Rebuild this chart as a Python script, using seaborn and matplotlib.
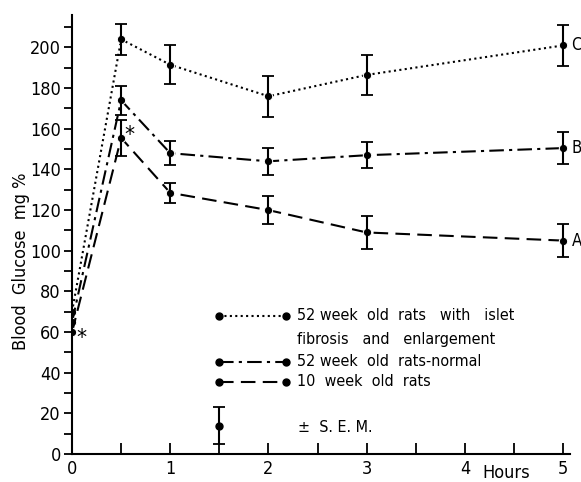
import matplotlib
matplotlib.use("Agg")
import matplotlib.pyplot as plt
import seaborn as sns
import pandas as pd

# Blood glucose (mg %) after glucose load, three groups of rats
hours = [0, 0.5, 1, 2, 3, 5]
glucose_c = [70, 204, 191.5, 176, 186.5, 201]    # 52 wk, islet fibrosis
glucose_b = [65, 174, 148, 144, 147, 150.5]      # 52 wk, normal
glucose_a = [60, 155.5, 128.5, 120, 109, 105]    # 10 wk
sem_c = [0, 7.5, 9.5, 10, 10, 10]
sem_b = [0, 7, 6, 6.5, 6.5, 8]
sem_a = [0, 9, 5, 7, 8, 8]

groups = ["C", "B", "A"]
labels = ["52 week  old  rats   with   islet",
          "52 week  old  rats-normal",
          "10  week  old  rats"]
label_extra = "fibrosis   and   enlargement"
dash_styles = {"C": (1, 1.6), "B": (7, 2.5, 1.5, 2.5), "A": (7, 3.5)}
legend_y = [68, 45.3, 35.5]

df = pd.concat([
    pd.DataFrame({"hours": hours, "glucose": g, "sem": s, "group": name})
    for name, g, s in zip(groups, [glucose_c, glucose_b, glucose_a],
                          [sem_c, sem_b, sem_a])
])

sns.set_style("ticks")
plt.rcParams["font.family"] = ["DejaVu Sans"]
plt.rcParams["font.stretch"] = "condensed"
plt.rcParams["text.color"] = "black"
plt.rcParams["axes.labelcolor"] = "black"
plt.rcParams["xtick.color"] = "black"
plt.rcParams["ytick.color"] = "black"
plt.rcParams["axes.edgecolor"] = "black"

fig = plt.figure(figsize=(5.81, 4.82), dpi=100)
ax = fig.add_axes([0.124, 0.058, 0.857, 0.911])

sns.lineplot(data=df, x="hours", y="glucose", style="group", dashes=dash_styles,
             markers={"C": "o", "B": "o", "A": "o"}, markersize=6,
             color="black", linewidth=1.5, legend=False, ax=ax)

# standard error bars (not at time 0)
err = df[df["sem"] > 0]
ax.errorbar(err["hours"], err["glucose"], yerr=err["sem"], fmt="none",
            ecolor="black", elinewidth=1.5, capsize=4, capthick=1.3)

for name, g in zip(groups, [glucose_c, glucose_b, glucose_a]):
    ax.text(hours[-1] + 0.085, g[-1], name, fontsize=12, va="center", ha="left")

# significance marks
ax.text(0.04, 57, "*", fontsize=16, va="center", ha="left")
ax.text(0.53, 157, "*", fontsize=16, va="center", ha="left")

# hand-drawn key
for name, lab, ly in zip(groups, labels, legend_y):
    ax.plot([1.5, 2.18], [ly, ly], color="black", linewidth=1.5,
            dashes=dash_styles[name], marker="o", markersize=5)
    ax.text(2.29, ly, lab, fontsize=11.5, va="center", ha="left")
ax.text(2.29, 56.5, label_extra, fontsize=11.5, va="center", ha="left")
ax.errorbar([1.5], [14], yerr=[9], fmt="o", color="black", markersize=5,
            elinewidth=1.5, capsize=4, capthick=1.3)
ax.text(2.3, 13, "±  S. E. M.", fontsize=11.5, va="center", ha="left")

ax.set_xlim(0, 5.07)
ax.set_ylim(0, 216)
ax.set_xticks([0, 1, 2, 3, 4, 5])
ax.set_xticks([0.5, 1.5, 2.5, 3.5, 4.5], minor=True)
ax.set_yticks(range(0, 201, 20))
ax.set_yticks(range(10, 211, 20), minor=True)
ax.tick_params(axis="x", which="both", direction="in", length=8, width=1.3,
               labelsize=13, pad=4)
ax.tick_params(axis="y", which="both", direction="out", length=6, width=1.3,
               labelsize=13, pad=2)
ax.text(4.42, -0.022, "Hours", transform=ax.get_xaxis_transform(),
        fontsize=13, ha="center", va="top")
ax.set_xlabel("")
ax.set_ylabel("Blood  Glucose  mg %", fontsize=13)
ax.yaxis.set_label_coords(-0.085, 0.44)
sns.despine(ax=ax)
for side in ["left", "bottom"]:
    ax.spines[side].set_linewidth(1.5)

fig.savefig("out.png", dpi=100)
